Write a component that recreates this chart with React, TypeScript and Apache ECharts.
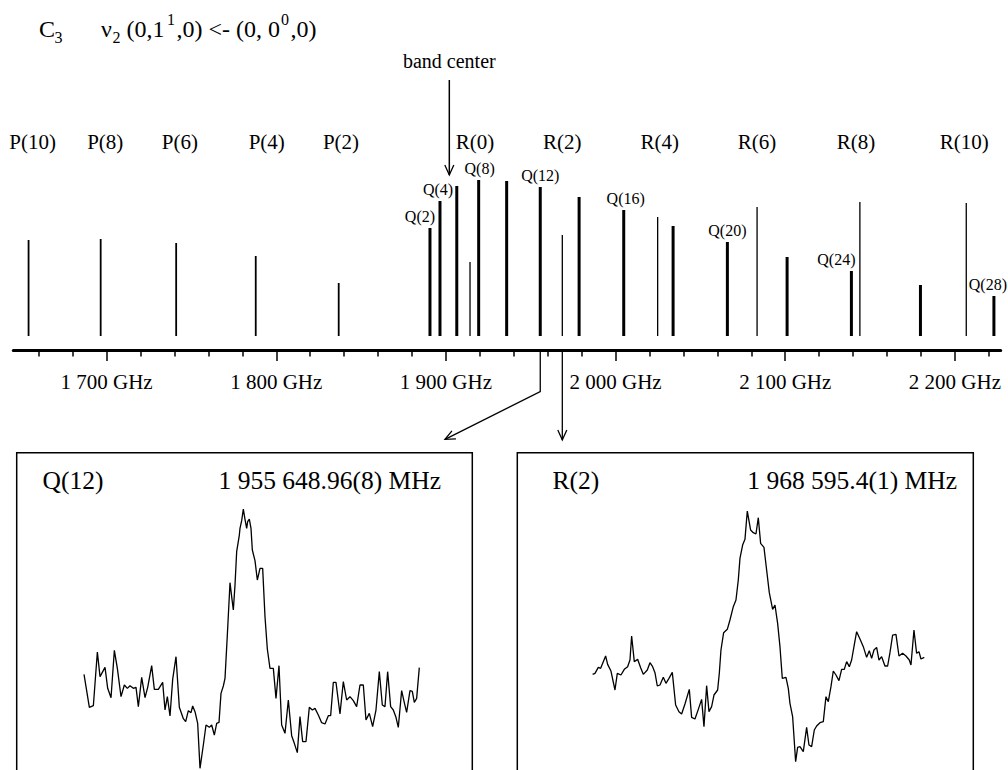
import React, { useEffect, useRef } from 'react';
import * as echarts from 'echarts';

const FONT = '"Liberation Serif", "Times New Roman", Times, serif';

// ---------- main stick spectrum (frequency in GHz, relative intensity) ----------
const pLabels = ['P(10)', 'P(8)', 'P(6)', 'P(4)', 'P(2)'];
const pFreqGHz = [1654.0, 1696.5, 1741.0, 1787.9, 1836.8];
const pIntensity = [96, 97, 93, 80, 53];

const rLabels = ['R(0)', 'R(2)', 'R(4)', 'R(6)', 'R(8)', 'R(10)'];
const rFreqGHz = [1914.2, 1968.6, 2024.8, 2083.4, 2144.0, 2206.7];
const rIntensity = [74, 101, 119, 129, 134, 133];

const qLabels = ['Q(2)', 'Q(4)', '', 'Q(8)', '', 'Q(12)', '', 'Q(16)', '', 'Q(20)', '', 'Q(24)', '', 'Q(28)'];
const qFreqGHz = [1890.6, 1896.5, 1906.4, 1919.3, 1935.8, 1955.6, 1978.5, 2004.8, 2033.9, 2065.9, 2101.1, 2139.0, 2179.7, 2223.0];
const qIntensity = [108, 135, 150, 156, 155, 149, 139, 126, 110, 94, 79, 65, 51, 40];

const bandCenterGHz = 1902;
const majorTicksGHz = [1700, 1800, 1900, 2000, 2100, 2200];
const minorTicksGHz = [1660, 1680, 1720, 1740, 1760, 1780, 1820, 1840, 1860, 1880, 1920, 1940, 1960, 1980, 2020, 2040, 2060, 2080, 2120, 2140, 2160, 2180, 2220];

// ---------- insets: measured line shapes (relative frequency offset, signal) ----------
const q12Title = 'Q(12)';
const q12FreqText = '1 955 648.96(8) MHz';
const q12LineGHz = 1955.6;
const q12Trace: [number, number][] = [
  [-4.78, 28.7], [-4.62, 18.8], [-4.50, 19.3], [-4.38, 35.4], [-4.30, 28.0], [-4.15, 30.8], [-4.07, 24.5], [-3.97, 21.7],
  [-3.87, 35.9], [-3.78, 30.5], [-3.67, 22.0], [-3.57, 25.5], [-3.48, 24.5], [-3.40, 25.3], [-3.30, 24.5], [-3.22, 24.8],
  [-3.15, 19.0], [-3.05, 27.8], [-2.95, 21.7], [-2.87, 24.8], [-2.75, 31.3], [-2.67, 24.2], [-2.55, 24.2], [-2.42, 26.3],
  [-2.35, 18.0], [-2.28, 22.0], [-2.20, 16.2], [-2.12, 27.2], [-2.02, 34.0], [-1.92, 18.8], [-1.80, 15.4], [-1.73, 14.5],
  [-1.65, 17.8], [-1.57, 17.2], [-1.52, 19.2], [-1.45, 17.5], [-1.37, 14.0], [-1.30, 0.5], [-1.20, 7.5], [-1.12, 13.5],
  [-1.02, 12.8], [-0.95, 13.5], [-0.87, 10.5], [-0.80, 14.0], [-0.73, 14.3], [-0.67, 23.0], [-0.60, 25.2], [-0.55, 27.5],
  [-0.48, 40.5], [-0.40, 56.2], [-0.35, 52.0], [-0.30, 48.0], [-0.25, 55.5], [-0.20, 65.5], [-0.12, 70.5], [-0.10, 72.5],
  [-0.05, 74.8], [0.00, 78.3], [0.05, 75.2], [0.10, 72.5], [0.13, 74.5], [0.18, 75.3], [0.23, 72.5], [0.27, 66.0],
  [0.35, 62.8], [0.42, 57.0], [0.50, 60.5], [0.58, 60.5], [0.65, 46.0], [0.72, 36.3], [0.80, 30.5], [0.90, 30.5],
  [0.98, 21.5], [1.07, 31.3], [1.15, 13.5], [1.25, 11.0], [1.35, 21.0], [1.45, 10.3], [1.53, 8.0], [1.62, 5.2],
  [1.70, 16.0], [1.78, 8.5], [1.88, 8.5], [1.98, 18.8], [2.07, 18.0], [2.15, 18.5], [2.25, 16.5], [2.35, 14.2],
  [2.45, 13.8], [2.55, 16.3], [2.62, 16.3], [2.70, 26.3], [2.78, 26.3], [2.90, 16.8], [3.00, 26.5], [3.10, 21.0],
  [3.20, 22.0], [3.30, 20.8], [3.40, 19.0], [3.50, 25.5], [3.60, 25.5], [3.68, 15.0], [3.78, 17.0], [3.88, 13.0],
  [3.98, 18.0], [4.08, 29.5], [4.17, 19.5], [4.25, 19.0], [4.33, 29.5], [4.42, 19.0], [4.50, 18.0], [4.58, 15.8],
  [4.65, 12.8], [4.75, 23.8], [4.83, 20.2], [4.90, 17.3], [5.00, 23.8], [5.07, 23.6], [5.13, 20.3], [5.20, 21.5],
  [5.28, 30.7],
];

const r2Title = 'R(2)';
const r2FreqText = '1 968 595.4(1) MHz';
const r2LineGHz = 1968.6;
const r2Trace: [number, number][] = [
  [-4.52, 28.7], [-4.45, 29.0], [-4.35, 30.8], [-4.28, 30.5], [-4.13, 34.2], [-4.07, 31.7], [-3.97, 29.7], [-3.85, 24.0],
  [-3.78, 29.0], [-3.67, 28.5], [-3.57, 30.2], [-3.47, 31.0], [-3.40, 33.0], [-3.35, 40.2], [-3.27, 32.5], [-3.17, 33.2],
  [-3.08, 30.7], [-3.00, 28.7], [-2.88, 30.0], [-2.80, 32.2], [-2.72, 31.0], [-2.65, 29.2], [-2.58, 25.2], [-2.50, 25.5],
  [-2.40, 27.8], [-2.32, 26.0], [-2.23, 27.5], [-2.13, 29.3], [-2.03, 19.5], [-1.93, 17.5], [-1.85, 16.8], [-1.75, 19.8],
  [-1.62, 24.2], [-1.55, 15.8], [-1.45, 15.3], [-1.35, 18.2], [-1.25, 21.2], [-1.18, 13.0], [-1.10, 25.3], [-1.03, 17.5],
  [-0.95, 19.0], [-0.88, 22.5], [-0.77, 24.0], [-0.72, 29.0], [-0.67, 36.0], [-0.59, 41.2], [-0.48, 42.2], [-0.40, 45.0],
  [-0.30, 49.0], [-0.22, 51.0], [-0.15, 57.0], [-0.10, 63.5], [-0.02, 67.5], [0.05, 69.2], [0.12, 77.7], [0.22, 72.0],
  [0.30, 71.2], [0.38, 70.8], [0.45, 75.7], [0.52, 68.0], [0.62, 66.8], [0.70, 60.0], [0.78, 53.2], [0.88, 48.2],
  [0.95, 49.5], [1.03, 44.0], [1.10, 37.0], [1.17, 27.5], [1.28, 27.8], [1.35, 24.5], [1.40, 20.0], [1.48, 16.0],
  [1.57, 2.5], [1.63, 6.8], [1.70, 7.0], [1.80, 5.5], [1.90, 12.8], [1.97, 7.5], [2.05, 7.0], [2.13, 12.0],
  [2.20, 13.2], [2.30, 14.2], [2.40, 14.5], [2.48, 22.0], [2.55, 20.5], [2.63, 25.0], [2.70, 29.7], [2.78, 28.5],
  [2.87, 26.8], [2.95, 30.2], [3.03, 30.2], [3.10, 32.5], [3.18, 31.0], [3.25, 33.0], [3.32, 37.0], [3.40, 41.5],
  [3.50, 39.3], [3.60, 37.0], [3.70, 33.8], [3.78, 35.8], [3.85, 33.5], [3.92, 36.0], [4.00, 36.8], [4.07, 33.0],
  [4.15, 34.0], [4.25, 31.2], [4.33, 31.2], [4.40, 35.2], [4.48, 40.5], [4.58, 40.7], [4.67, 34.2], [4.78, 35.0],
  [4.88, 34.2], [4.98, 33.0], [5.03, 31.5], [5.12, 42.0], [5.20, 35.0], [5.27, 35.5], [5.33, 33.3], [5.43, 33.8],
];

// ---------- layout (pixel tweaks for label placement) ----------
const pLabelDx = [4, 4.6, 3.7, 11, 2.3];
const rLabelDx = [5, 0, 2, 0, -4, -2];
const qLabelDx = [-10, -2, 0, 1, 0, 0, 0, 2, 0, 0, 0, -15, 0, -6];
const LABEL_ROW = 194.3; // value-axis level of the P/R label row
const INSET_TOP = 452.7;
const INSET_L = { left: 16.7, width: 455.6 };
const INSET_R = { left: 517.3, width: 456 };

const fmtGHz = (v: number) => String(Math.round(v)).replace(/\B(?=(\d{3})+(?!\d))/g, ' ') + ' GHz';

function stickSeries(freqs: number[], ints: number[], labels: string[], width: number, mode: 'row' | 'top', dxs: number[], fontSize: number) {
  return {
    type: 'custom',
    xAxisIndex: 0,
    yAxisIndex: 0,
    silent: true,
    data: freqs.map((f, i) => [f, ints[i]]),
    renderItem: (params: any, api: any) => {
      const i = params.dataIndex;
      const base = api.coord([api.value(0), 0]);
      const top = api.coord([api.value(0), api.value(1)]);
      const children: any[] = [
        { type: 'line', shape: { x1: base[0], y1: base[1], x2: top[0], y2: top[1] }, style: { stroke: '#000', lineWidth: width } },
      ];
      const label = labels[i];
      if (label) {
        const ty = mode === 'row' ? api.coord([api.value(0), LABEL_ROW])[1] : top[1] - 11.5;
        children.push({
          type: 'text',
          x: base[0] + dxs[i],
          y: ty,
          style: { text: label, fontSize, fontFamily: FONT, fill: '#000', align: 'center', verticalAlign: 'middle' },
        });
      }
      return { type: 'group', children };
    },
  };
}

function arrowHead(tx: number, ty: number, fx: number, fy: number, len = 10, half = 4.5) {
  const dx = tx - fx, dy = ty - fy;
  const L = Math.hypot(dx, dy);
  const ux = dx / L, uy = dy / L;
  const bx = tx - ux * len, by = ty - uy * len;
  const px = -uy, py = ux;
  return {
    type: 'polyline',
    shape: { points: [[bx + px * half, by + py * half], [tx, ty], [bx - px * half, by - py * half]] },
    style: { stroke: '#000', lineWidth: 1.3, fill: null },
  };
}

function txt(text: string, x: number, y: number, fontSize: number, align = 'left') {
  return { type: 'text', x, y, style: { text, fontSize, fontFamily: FONT, fill: '#000', align, verticalAlign: 'middle' } };
}

export default function App() {
  const ref = useRef<HTMLDivElement>(null);
  useEffect(() => {
    if (!ref.current) return;
    const chart = echarts.init(ref.current, undefined, { renderer: 'svg' });
    const insetAxisX = (min: number, max: number, grid: number) => ({ type: 'value', gridIndex: grid, min, max, show: false });
    const insetAxisY = (grid: number) => ({ type: 'value', gridIndex: grid, min: 0, max: 95.2, show: false });
    chart.setOption({
      animation: false,
      backgroundColor: '#fff',
      grid: [
        { left: 13.3, width: 987.4, top: 136, height: 200 },
        { ...INSET_L, top: INSET_TOP, bottom: 0 },
        { ...INSET_R, top: INSET_TOP, bottom: 0 },
      ],
      xAxis: [
        {
          type: 'value', gridIndex: 0, position: 'bottom', offset: 14, min: 1645, max: 2227,
          axisLine: { show: true, onZero: false, lineStyle: { color: '#000', width: 3 } },
          axisTick: { show: true, customValues: majorTicksGHz, length: 11, lineStyle: { color: '#000', width: 1.5 } },
          axisLabel: { show: true, customValues: majorTicksGHz, formatter: fmtGHz, color: '#000', fontSize: 21, fontFamily: FONT, margin: 21 },
          splitLine: { show: false },
        },
        {
          type: 'value', gridIndex: 0, position: 'bottom', offset: 14, min: 1645, max: 2227,
          axisLine: { show: false, onZero: false },
          axisTick: { show: true, customValues: minorTicksGHz, length: 6.5, lineStyle: { color: '#000', width: 1.5 } },
          axisLabel: { show: false },
          splitLine: { show: false },
        },
        insetAxisX(-6.8, 6.87, 1),
        insetAxisX(-6.78, 6.9, 2),
      ],
      yAxis: [
        { type: 'value', gridIndex: 0, min: 0, max: 200, show: false },
        insetAxisY(1),
        insetAxisY(2),
      ],
      series: [
        stickSeries(pFreqGHz, pIntensity, pLabels, 1.8, 'row', pLabelDx, 21),
        stickSeries(rFreqGHz, rIntensity, rLabels, 1.3, 'row', rLabelDx, 21),
        stickSeries(qFreqGHz, qIntensity, qLabels, 3, 'top', qLabelDx, 16),
        { type: 'line', xAxisIndex: 2, yAxisIndex: 1, data: q12Trace, showSymbol: false, silent: true, lineStyle: { color: '#000', width: 1.3 } },
        { type: 'line', xAxisIndex: 3, yAxisIndex: 2, data: r2Trace, showSymbol: false, silent: true, lineStyle: { color: '#000', width: 1.3 } },
      ],
    });

    const axisY = 350;
    const bcX = chart.convertToPixel({ xAxisIndex: 0 }, bandCenterGHz) as number;
    const qX = chart.convertToPixel({ xAxisIndex: 0 }, q12LineGHz) as number;
    const rX = chart.convertToPixel({ xAxisIndex: 0 }, r2LineGHz) as number;
    const qBendY = 391.7;
    const qTip = [445, 439.3];
    const rTipY = 440;

    chart.setOption({
      graphic: [
        // title
        txt('C', 39, 29.2, 24),
        txt('3', 54.5, 37.9, 16),
        txt('ν', 101, 29.2, 24),
        txt('2', 112.5, 37.9, 16),
        txt('(0,1', 126.5, 29.2, 24),
        txt('1', 167, 19.6, 16),
        txt(',0) <- (0, 0', 176.5, 29.2, 24),
        txt('0', 281, 19.6, 16),
        txt(',0)', 290.5, 29.2, 24),
        // band centre marker
        txt('band center', bcX, 61.3, 20, 'center'),
        { type: 'line', shape: { x1: bcX, y1: 80, x2: bcX, y2: 175 }, style: { stroke: '#000', lineWidth: 1.5 } },
        arrowHead(bcX, 175, bcX, 80),
        // links to insets
        { type: 'polyline', shape: { points: [[qX, axisY], [qX, qBendY], qTip] }, style: { stroke: '#000', lineWidth: 1.3, fill: null } },
        arrowHead(qTip[0], qTip[1], qX, qBendY),
        { type: 'line', shape: { x1: rX, y1: axisY, x2: rX, y2: rTipY }, style: { stroke: '#000', lineWidth: 1.3 } },
        arrowHead(rX, rTipY, rX, axisY),
        // inset frames (bottom edge lies below the picture)
        { type: 'rect', shape: { x: INSET_L.left, y: INSET_TOP, width: INSET_L.width, height: 400 }, style: { fill: null, stroke: '#000', lineWidth: 1.5 } },
        { type: 'rect', shape: { x: INSET_R.left, y: INSET_TOP, width: INSET_R.width, height: 400 }, style: { fill: null, stroke: '#000', lineWidth: 1.5 } },
        // inset captions
        txt(q12Title, 42.5, 480.7, 25.5),
        txt(q12FreqText, 441, 480.7, 25.5, 'right'),
        txt(r2Title, 552.5, 480.7, 25.5),
        txt(r2FreqText, 957, 480.7, 25.5, 'right'),
      ],
    });
    return () => chart.dispose();
  }, []);
  return <div ref={ref} style={{ position: 'absolute', left: 0, top: 0, width: 1008, height: 770 }} />;
}
